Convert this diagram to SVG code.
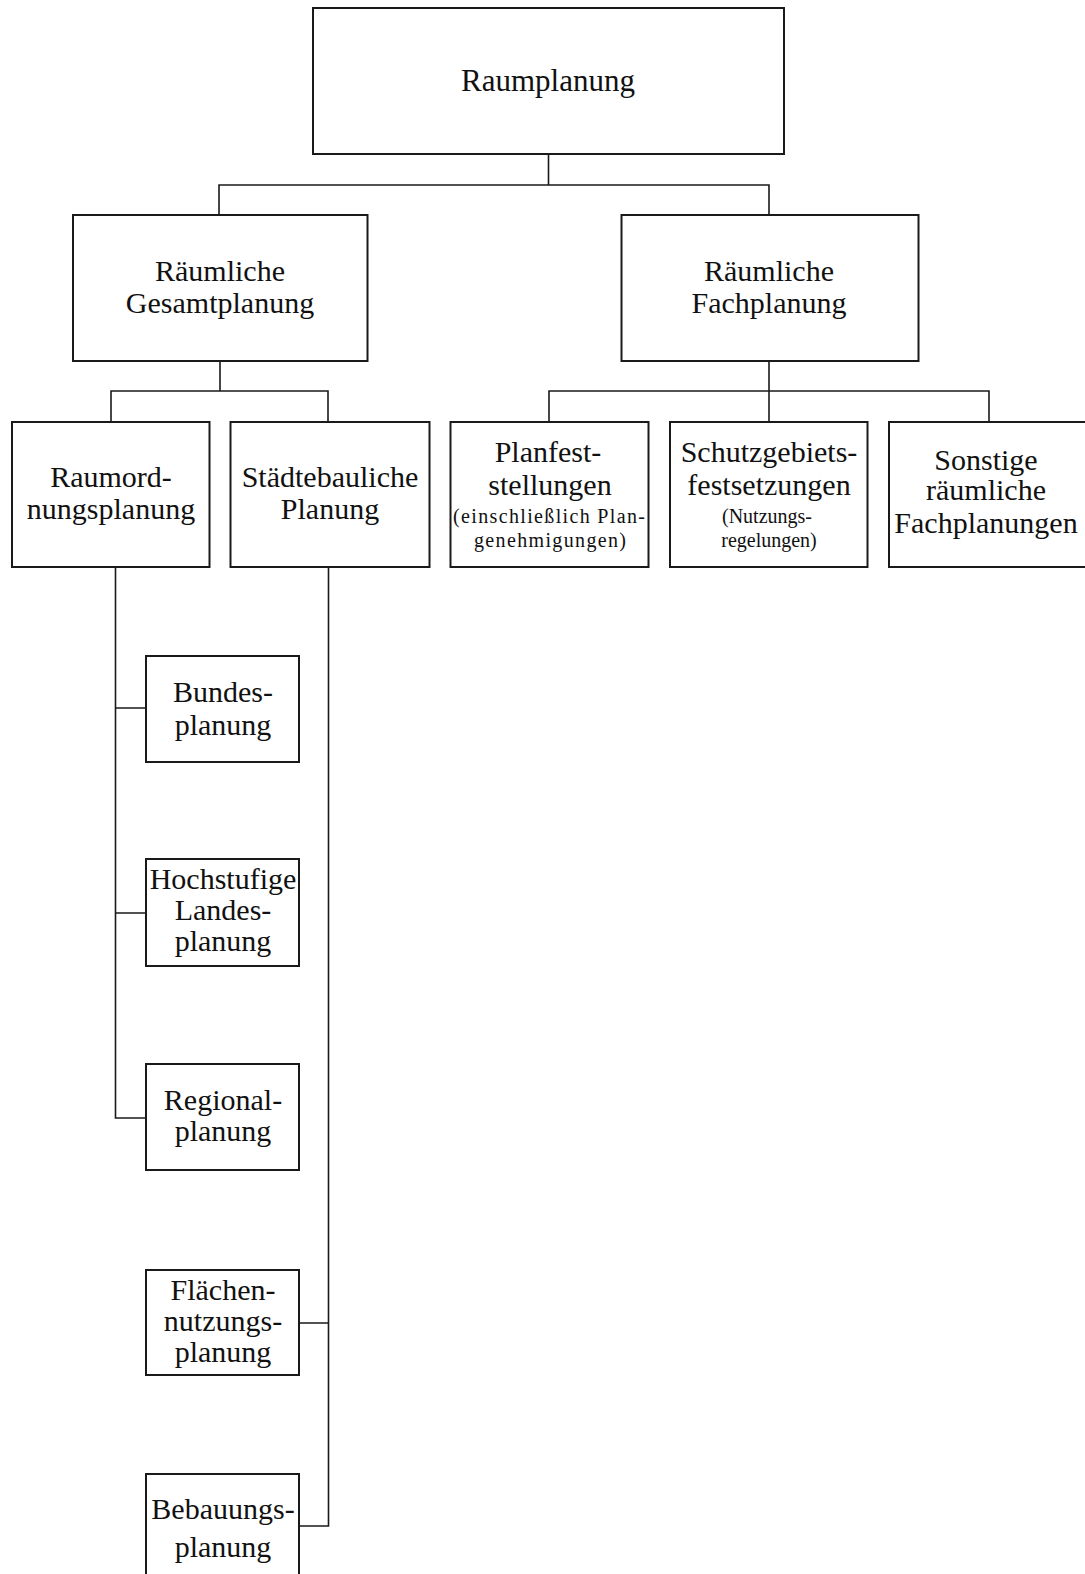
<svg xmlns="http://www.w3.org/2000/svg" width="1085" height="1574" viewBox="0 0 1085 1574">
<style>
.box{fill:#fff;stroke:#1a1a1a;stroke-width:2}
.con{fill:none;stroke:#1a1a1a;stroke-width:1.6}
text{font-family:"Liberation Serif","Times New Roman",serif;fill:#111;text-anchor:middle;font-size:30px}
.sm{font-size:20px}
</style>
<rect width="1085" height="1574" fill="#fff"/>
<g id="connectors">
<path class="con" d="M548.5 154V185M219 215V185H769V215"/>
<path class="con" d="M220 361V391M111 422V391H328V422"/>
<path class="con" d="M769 361V422M549 422V391H989V422"/>
<path class="con" d="M115.5 567V1118H146M115.5 708H146M115.5 913H146"/>
<path class="con" d="M328.5 567V1526H299M328.5 1323H299"/>
</g>
<g id="raumplanung"><rect class="box" x="313" y="8" width="471" height="146"/><text x="548" y="91" style="font-size:31px">Raumplanung</text></g>
<g id="gesamtplanung"><rect class="box" x="73" y="215" width="294.5" height="146"/><text x="220" y="281">Räumliche</text><text x="220" y="313">Gesamtplanung</text></g>
<g id="fachplanung"><rect class="box" x="621.5" y="215" width="297" height="146"/><text x="769" y="281">Räumliche</text><text x="769" y="313">Fachplanung</text></g>
<g id="raumordnung"><rect class="box" x="12" y="422" width="197.5" height="145"/><text x="111" y="487">Raumord-</text><text x="111" y="519">nungsplanung</text></g>
<g id="staedtebau"><rect class="box" x="230.5" y="422" width="199" height="145"/><text x="330" y="487">Städtebauliche</text><text x="330" y="519">Planung</text></g>
<g id="planfest"><rect class="box" x="450.5" y="422" width="198" height="145"/><text x="548" y="462">Planfest-</text><text x="550" y="495">stellungen</text><text class="sm" x="549" y="523" textLength="192" lengthAdjust="spacing">(einschließlich Plan-</text><text class="sm" x="550" y="547" textLength="152" lengthAdjust="spacing">genehmigungen)</text></g>
<g id="schutz"><rect class="box" x="670" y="422" width="197.5" height="145"/><text x="769" y="462">Schutzgebiets-</text><text x="769" y="495">festsetzungen</text><text class="sm" x="767" y="523">(Nutzungs-</text><text class="sm" x="769" y="547">regelungen)</text></g>
<g id="sonstige"><rect class="box" x="889" y="422" width="200" height="145"/><text x="986" y="470">Sonstige</text><text x="986" y="500">räumliche</text><text x="986" y="533">Fachplanungen</text></g>
<g id="bundes"><rect class="box" x="146" y="656" width="153" height="106"/><text x="223" y="702">Bundes-</text><text x="223" y="735">planung</text></g>
<g id="hochstufige"><rect class="box" x="146" y="859" width="153" height="107"/><text x="223" y="889">Hochstufige</text><text x="223" y="920">Landes-</text><text x="223" y="951">planung</text></g>
<g id="regional"><rect class="box" x="146" y="1064" width="153" height="106"/><text x="223" y="1110">Regional-</text><text x="223" y="1141">planung</text></g>
<g id="flaechen"><rect class="box" x="146" y="1270" width="153" height="105"/><text x="223" y="1300">Flächen-</text><text x="223" y="1331">nutzungs-</text><text x="223" y="1362">planung</text></g>
<g id="bebauung"><rect class="box" x="146" y="1474" width="153" height="110"/><text x="223" y="1519">Bebauungs-</text><text x="223" y="1557">planung</text></g>
</svg>
